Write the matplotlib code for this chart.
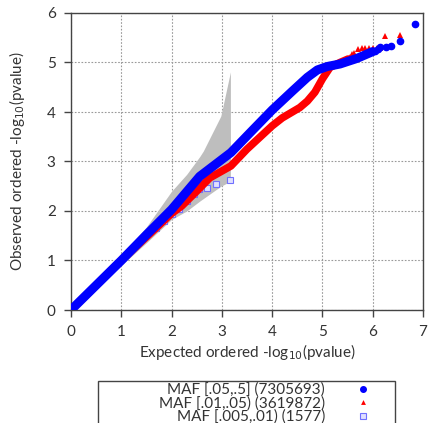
import numpy as np
import matplotlib.pyplot as plt
from matplotlib.lines import Line2D
from matplotlib.patches import Rectangle

plt.rcParams['font.family'] = ['Lato', 'DejaVu Sans']

# expected vs observed -log10(p)
blue_x = [0, 0.5, 1.0, 1.5, 2.0, 2.56, 3.18, 3.56, 4.0, 4.4, 4.7, 4.9, 5.1, 5.35, 5.68, 6.0]
blue_y = [0, 0.5, 1.0, 1.52, 2.03, 2.7, 3.18, 3.58, 4.04, 4.42, 4.7, 4.85, 4.92, 4.97, 5.08, 5.22]
blue_tail_x = [6.05, 6.1, 6.14, 6.26, 6.37, 6.55, 6.85]
blue_tail_y = [5.24, 5.27, 5.31, 5.32, 5.33, 5.44, 5.77]

red_x = [0, 1.0, 2.0, 2.2, 2.5, 2.76, 3.18, 3.5, 4.0, 4.2, 4.55, 4.7, 4.85, 5.0, 5.15, 5.35, 5.51]
red_y = [0, 1.0, 1.95, 2.1, 2.4, 2.67, 2.91, 3.25, 3.72, 3.88, 4.09, 4.22, 4.4, 4.67, 4.9, 5.0, 5.07]
red_tail_x = [5.55, 5.58, 5.62, 5.7, 5.78, 5.85, 5.92, 6.0, 6.08, 6.15, 6.24, 6.54]
red_tail_y = [5.12, 5.17, 5.2, 5.28, 5.29, 5.3, 5.3, 5.3, 5.3, 5.29, 5.53, 5.56]

sq_x = [1.7, 1.85, 2.0, 2.15, 2.3, 2.45, 2.55, 2.71, 2.88, 3.17]
sq_y = [1.65, 1.8, 1.93, 2.05, 2.2, 2.35, 2.44, 2.47, 2.54, 2.62]

# confidence band
band_x = [0, 0.5, 1.0, 1.5, 2.0, 2.3, 2.56, 2.63, 2.98, 3.17]
band_hi = [0.02, 0.55, 1.1, 1.68, 2.4, 2.74, 3.1, 3.21, 3.92, 4.81]
band_lo = [0, 0.45, 0.9, 1.36, 1.83, 2.0, 2.2, 2.25, 2.5, 2.6]

labels = ['MAF [.05,.5] (7305693)', 'MAF [.01,.05) (3619872)', 'MAF [.005,.01) (1577)']

fig = plt.figure(figsize=(4.29, 4.23), dpi=100)
ax = fig.add_axes([71 / 429, 1 - 310 / 423, 352 / 429, 297 / 423])

ax.fill_between(band_x, band_lo, band_hi, color='#bebebe', lw=0, zorder=1)

ax.plot(sq_x, sq_y, 's', mfc='#e0e0ff', mec='#7070ff', ms=5, mew=0.8, zorder=1.5)
ax.plot(blue_x, blue_y, color='#0000ff', lw=6.5, solid_capstyle='round', zorder=3)
ax.plot(blue_tail_x, blue_tail_y, 'o', color='#0000ff', ms=4.5, zorder=3)
ax.plot(red_x, red_y, color='#ff0000', lw=5.5, solid_capstyle='round', zorder=2)
ax.plot(red_tail_x, red_tail_y, '^', color='#ff0000', ms=4, mew=0, zorder=2)

ax.set_xlim(0, 7)
ax.set_ylim(0, 6)
ax.set_xticks(range(8))
ax.set_yticks(range(7))
ax.grid(True, linestyle=(0, (1.5, 1.5)), color='#999999', lw=0.8)
ax.set_axisbelow(True)
for s in ax.spines.values():
    s.set_color('#444444')
    s.set_linewidth(1.0)
ax.tick_params(direction='out', length=5, width=1, color='#444444',
               labelsize=11, labelcolor='#333333', pad=6)

ax.set_xlabel('Expected ordered -log$_{10}$(pvalue)', fontsize=11, color='#333333', labelpad=2)
ax.set_ylabel('Observed ordered -log$_{10}$(pvalue)', fontsize=11, color='#333333', labelpad=14)

# legend box runs off the bottom of the figure
fig.patches.append(Rectangle((98 / 429, -0.02), 297 / 429, 1 - 381 / 423 + 0.02,
                             transform=fig.transFigure, fill=False,
                             ec='#444444', lw=1.0))
handles = [
    Line2D([], [], ls='', marker='o', color='#0000ff', ms=4),
    Line2D([], [], ls='', marker='^', color='#ff0000', ms=3.5, mew=0),
    Line2D([], [], ls='', marker='s', mfc='#e0e0ff', mec='#7070ff', ms=5, mew=0.8),
]
fig.legend(handles, labels, loc='upper right', bbox_to_anchor=(386 / 429, 1 - 375 / 423),
           markerfirst=False, frameon=False, fontsize=11, labelspacing=-0.05,
           handletextpad=1.5, borderpad=0, labelcolor='#333333')

fig.savefig('out.png', dpi=100)
